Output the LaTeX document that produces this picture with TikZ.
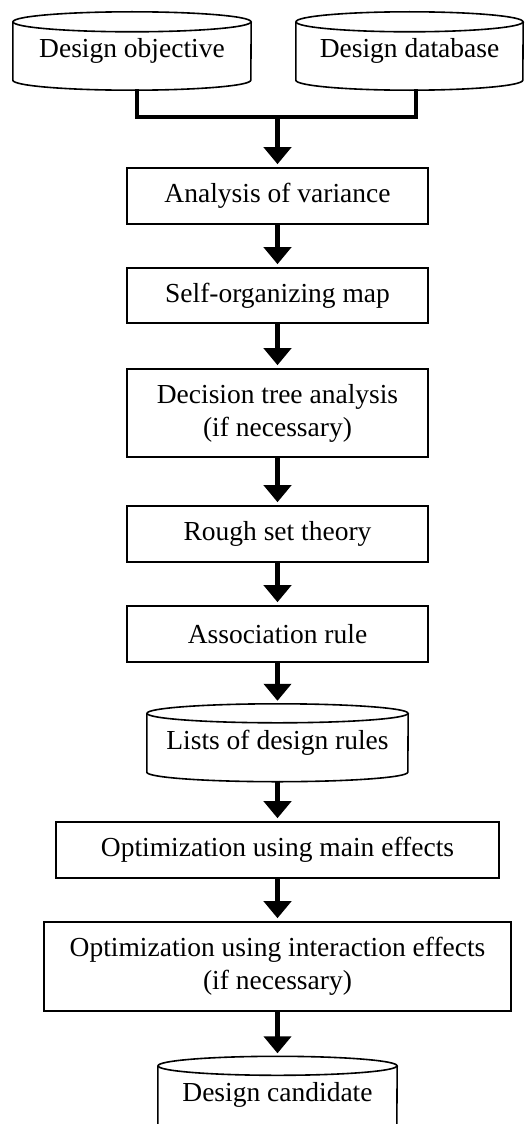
\documentclass[tikz,border=0pt]{standalone}
\usepackage{fontspec}
\setmainfont{Liberation Serif}
\usetikzlibrary{arrows.meta,calc}

% drum outline around a body node: #1 node name, #2 half width, #3 ellipse half height
\newcommand\drumoutline[3]{%
  \draw[cylline] (#1.north west) -- (#1.south west)
     arc[start angle=180,end angle=360,x radius=#2,y radius=#3] -- (#1.north east);
  \draw[cylline, fill=white] (#1.north) ellipse[x radius=#2,y radius=#3];
}

\begin{document}
\begin{tikzpicture}[x=1pt,y=1pt,
  txt/.style={font=\fontsize{27.5}{33}\selectfont},
  stepbox/.style={txt, draw, line width=1.6pt, inner sep=0pt, align=center},
  drumbody/.style={txt, inner sep=0pt, align=center},
  cylline/.style={line width=1.6pt},
  flow/.style={line width=4.5pt, -{Triangle[width=27pt,length=17pt]}, shorten >=3pt},
  link/.style={line width=4.5pt, line join=miter}]
\useasboundingbox (0,0) rectangle (526,-1124);

% inputs
\node[drumbody, minimum width=238pt, minimum height=58pt] (obj) at (132,-51) {Design objective};
\node[drumbody, minimum width=227pt, minimum height=58pt] (db) at (409.5,-51) {Design database};
\drumoutline{obj}{119pt}{10pt}
\drumoutline{db}{113.5pt}{10pt}

% mining steps
\node[stepbox, minimum width=301pt, minimum height=56pt] (aov) at (277.5,-196) {Analysis of variance};
\node[stepbox, minimum width=301pt, minimum height=55pt] (som) at (277.5,-295.5) {Self-organizing map};
\node[stepbox, minimum width=301pt, minimum height=88pt] (dta) at (277.5,-413) {Decision tree analysis\\(if necessary)};
\node[stepbox, minimum width=301pt, minimum height=56pt] (rst) at (277.5,-534) {Rough set theory};
\node[stepbox, minimum width=301pt, minimum height=56pt] (assoc) at (277.5,-634) {Association rule};

% rule lists
\node[drumbody, minimum width=261pt, minimum height=58.5pt] (rules) at (277.5,-742.75) {Lists of design rules};
\drumoutline{rules}{130.5pt}{9.5pt}

% optimization
\node[stepbox, minimum width=443pt, minimum height=56pt] (mainopt) at (277.5,-850) {Optimization using main effects};
\node[stepbox, minimum width=467pt, minimum height=89pt] (interopt) at (277.5,-966.5) {Optimization using interaction effects\\(if necessary)};

% result
\node[drumbody, minimum width=239pt, minimum height=58.5pt] (cand) at (277.5,-1095.25) {Design candidate};
\drumoutline{cand}{119.5pt}{9.5pt}

% connectors
\coordinate (join) at (277.5,-117);
\draw[link] ($(obj.south)+(5,-9)$) |- (join) -| ($(db.south)+(6.5,-9)$);
\draw[flow] (join) -- (aov);
\draw[flow] (aov) -- (som);
\draw[flow] (som) -- (dta);
\draw[flow] (dta) -- (rst);
\draw[flow] (rst) -- (assoc);
\draw[flow] (assoc) -- ($(rules.north)+(0,9.5)$);
\draw[flow] ($(rules.south)+(0,-8.5)$) -- (mainopt);
\draw[flow] (mainopt) -- (interopt);
\draw[flow] (interopt) -- ($(cand.north)+(0,9.5)$);
\end{tikzpicture}
\end{document}
